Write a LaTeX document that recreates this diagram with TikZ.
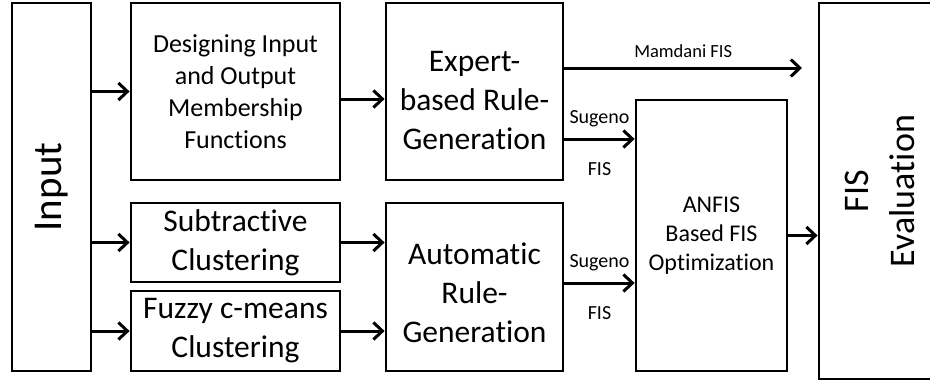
\documentclass[tikz,border=0pt]{standalone}
\usepackage{fontspec}
\setmainfont{Carlito}[Ligatures=NoCommon]
\usetikzlibrary{arrows.meta}
\begin{document}
\begin{tikzpicture}[x=1pt,y=-1pt,
  box/.style={draw,line width=2.8pt,inner sep=0pt,align=center},
  txt/.style={inner sep=0pt,align=center},
  arr/.style={line width=3pt,-{Straight Barb[length=9pt,width=17pt]}},
  lbl/.style={inner sep=0pt,font=\fontsize{20}{24}\selectfont},
  big/.style={font=\fontsize{31.5}{39}\selectfont},
]
\useasboundingbox (0,0) rectangle (930,383);
\clip (0,0) rectangle (930,383);
% boxes
\node[box,minimum width=368pt,minimum height=79pt,rotate=90,font=\fontsize{41}{49}\selectfont] (inp) at (51.5,187) {Input};
\node[box,minimum width=209pt,minimum height=177pt,font=\fontsize{26}{32}\selectfont] (des) at (235.5,91.5) {Designing Input\\and Output\\Membership\\Functions};
\node[box,big,minimum width=209pt,minimum height=79pt] (sub) at (235.5,242.5) {Subtractive\\Clustering};
\node[box,big,minimum width=209pt,minimum height=80pt] (fcm) at (235.5,331) {Fuzzy c-means\\Clustering};
\node[box,minimum width=177pt,minimum height=177pt] (exp) at (474.5,91.5) {};
\node[txt,big] (expt) at ([yshift=-9pt]exp.center) {Expert-\\based Rule-\\Generation};
\node[box,minimum width=177pt,minimum height=168pt] (aut) at (474.5,287) {};
\node[txt,big] (autt) at ([yshift=-6pt]aut.center) {Automatic\\Rule-\\Generation};
\node[box,minimum width=151pt,minimum height=271pt,font=\fontsize{24}{29}\selectfont] (anf) at (711.5,235.5) {ANFIS\\Based FIS\\Optimization};
\node[box,minimum width=376pt,minimum height=122pt,rotate=90,font=\fontsize{36}{46}\selectfont] (eva) at (880,191) {FIS\\Evaluation};
\coordinate (mam) at (802,68);
% connectors
\draw[arr] (inp.south |- des.west) -- (des.west);
\draw[arr] (inp.south |- sub.west) -- (sub.west);
\draw[arr] (inp.south |- fcm.west) -- (fcm.west);
\draw[arr] ([yshift=-7.5pt]des.east) -- ([yshift=-7.5pt]des.east -| exp.west);
\draw[arr] (sub.east) -- (sub.east -| aut.west);
\draw[arr] (fcm.east) -- (fcm.east -| aut.west);
\draw[arr] (exp.east |- mam) -- node[lbl,above=9pt,font=\fontsize{18.5}{22}\selectfont] (lm) {Mamdani FIS} (mam);
\draw[arr] ([yshift=-47.5pt]exp.east) -- node[lbl,above=11pt] (ls1) {Sugeno} node[lbl,below=22pt] (lf1) {FIS} ([yshift=-47.5pt]exp.east -| anf.west);
\draw[arr] ([yshift=4pt]aut.east) -- node[lbl,above=11pt] (ls2) {Sugeno} node[lbl,below=22pt] (lf2) {FIS} ([yshift=4pt]aut.east -| anf.west);
\draw[arr] (anf.east) -- (anf.east -| eva.north);
\end{tikzpicture}
\end{document}
